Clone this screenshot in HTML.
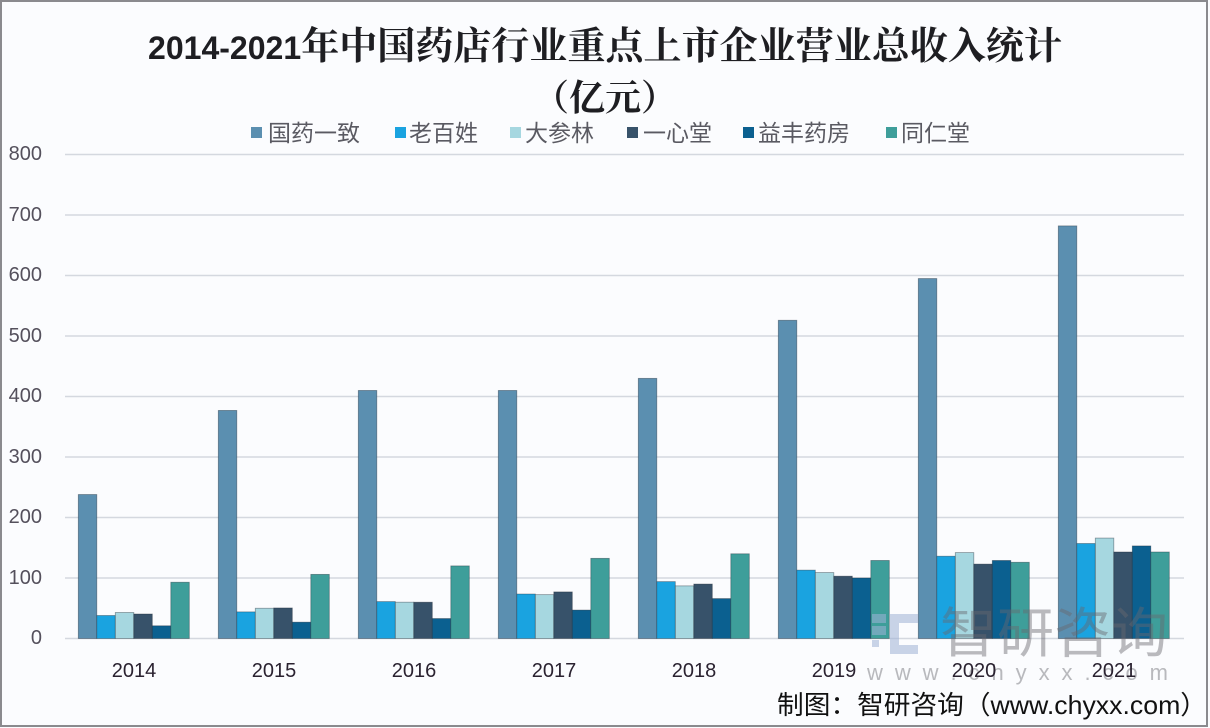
<!DOCTYPE html>
<html>
<head>
<meta charset="utf-8">
<style>
  html,body{margin:0;padding:0;background:#fbfcfe;}
  svg{display:block;}
  .ylab{font-family:"Liberation Sans","DejaVu Sans",sans-serif;font-size:20px;fill:#54505c;text-anchor:end;}
  .xlab{font-family:"Liberation Sans","DejaVu Sans",sans-serif;font-size:20px;fill:#2a2230;text-anchor:middle;}
  .leg{font-family:"Liberation Sans","Noto Sans CJK SC",sans-serif;font-size:23px;fill:#5a5a62;}
</style>
</head>
<body>
<svg width="1210" height="728" viewBox="0 0 1210 728" xmlns="http://www.w3.org/2000/svg">
  <rect x="0" y="0" width="1210" height="728" fill="#fbfcfe"/>
  <rect x="1" y="1" width="1206" height="725" fill="none" stroke="#8a8a8e" stroke-width="2"/>

  <!-- Title -->
  <text x="148" y="59" textLength="914" lengthAdjust="spacingAndGlyphs" fill="#1e1e22"><tspan font-family="Liberation Sans, sans-serif" font-weight="700" font-size="32">2014-2021</tspan><tspan font-family="Noto Serif CJK SC, serif" font-weight="700" font-size="38">年中国药店行业重点上市企业营业总收入统计</tspan></text>
  <text x="605" y="110" text-anchor="middle" font-family="Noto Serif CJK SC, serif" font-weight="700" font-size="36" fill="#1e1e22">（亿元）</text>

  <!-- Legend -->
  <rect x="251" y="127" width="11" height="11" fill="#5b8fb0"/>
  <text class="leg" x="268" y="141">国药一致</text>
  <rect x="395" y="127" width="11" height="11" fill="#1aa3e0"/>
  <text class="leg" x="409" y="141">老百姓</text>
  <rect x="510" y="127" width="11" height="11" fill="#a6d7e0"/>
  <text class="leg" x="525" y="141">大参林</text>
  <rect x="627" y="127" width="11" height="11" fill="#37526a"/>
  <text class="leg" x="643" y="141">一心堂</text>
  <rect x="743" y="127" width="11" height="11" fill="#0b6090"/>
  <text class="leg" x="758" y="141">益丰药房</text>
  <rect x="886" y="127" width="11" height="11" fill="#3e9e9a"/>
  <text class="leg" x="901" y="141">同仁堂</text>

  <!-- Gridlines -->
  <g stroke="#d4d8df" stroke-width="1.5">
    <line x1="65" x2="1184" y1="154.5" y2="154.5"/>
    <line x1="65" x2="1184" y1="215" y2="215"/>
    <line x1="65" x2="1184" y1="275.5" y2="275.5"/>
    <line x1="65" x2="1184" y1="336" y2="336"/>
    <line x1="65" x2="1184" y1="396.5" y2="396.5"/>
    <line x1="65" x2="1184" y1="457" y2="457"/>
    <line x1="65" x2="1184" y1="517.5" y2="517.5"/>
    <line x1="65" x2="1184" y1="578" y2="578"/>
    <line x1="65" x2="1184" y1="638.5" y2="638.5"/>
  </g>

  <!-- Y labels -->
  <text class="ylab" x="42" y="160">800</text>
  <text class="ylab" x="42" y="221">700</text>
  <text class="ylab" x="42" y="281">600</text>
  <text class="ylab" x="42" y="342">500</text>
  <text class="ylab" x="42" y="402">400</text>
  <text class="ylab" x="42" y="463">300</text>
  <text class="ylab" x="42" y="523">200</text>
  <text class="ylab" x="42" y="584">100</text>
  <text class="ylab" x="42" y="644">0</text>

  <!-- Bars -->
  <g id="bars" stroke="rgba(30,40,50,0.45)" stroke-width="0.8"></g>

  <!-- X labels -->
  <text class="xlab" x="134" y="677">2014</text>
  <text class="xlab" x="274" y="677">2015</text>
  <text class="xlab" x="414" y="677">2016</text>
  <text class="xlab" x="554" y="677">2017</text>
  <text class="xlab" x="694" y="677">2018</text>
  <text class="xlab" x="834" y="677">2019</text>

  <!-- Watermark -->
  <g opacity="0.55">
    <rect x="872" y="614" width="14" height="9" fill="#9fb3d6"/>
    <rect x="872" y="626" width="14" height="9" fill="#9fb3d6"/>
    <rect x="890" y="614" width="28" height="9" fill="#9fb3d6"/>
    <rect x="890" y="614" width="9" height="40" fill="#9fb3d6"/>
    <rect x="890" y="645" width="28" height="9" fill="#9fb3d6"/>
    <rect x="872" y="640" width="7" height="7" fill="#9fb3d6"/>
  </g>
  <text x="940" y="652" textLength="228" lengthAdjust="spacingAndGlyphs" font-family="Noto Sans CJK SC, sans-serif" font-size="54" fill="rgba(105,105,110,0.45)">智研咨询</text>
  <text x="867" y="680" textLength="301" lengthAdjust="spacing" font-family="Liberation Sans, sans-serif" font-size="22" fill="rgba(140,140,145,0.6)">w w w . c h y x x . c o m</text>

  <text class="xlab" x="974" y="677">2020</text>
  <text class="xlab" x="1114" y="677">2021</text>

  <!-- Source -->
  <text x="777" y="714" textLength="430" lengthAdjust="spacingAndGlyphs" font-family="Liberation Sans, Noto Sans CJK SC, sans-serif" font-size="26" fill="#111">制图：智研咨询（www.chyxx.com）</text>
</svg>
<script>
(function(){
  var data=[
    [238,377,410,410,430,526,595,682],
    [38,44,61,73.5,94,113,136,157],
    [43,50,60,72.5,87,109,142,166],
    [40.5,50.5,60,77,90,103,123,143],
    [21,27,33,47,66,100,129,153],
    [93,106,120,132.5,140,129,126,143]
  ];
  var colors=["#5b8fb0","#1aa3e0","#a6d7e0","#37526a","#0b6090","#3e9e9a"];
  var g=document.getElementById("bars");
  var ns="http://www.w3.org/2000/svg";
  for(var i=0;i<8;i++){
    var gx=78.3+140*i;
    for(var s=0;s<6;s++){
      var v=data[s][i];
      var y=638.5-0.605*v;
      var r=document.createElementNS(ns,"rect");
      r.setAttribute("x",(gx+s*18.5).toFixed(2));
      r.setAttribute("y",y.toFixed(2));
      r.setAttribute("width","18.5");
      r.setAttribute("height",(638.5-y).toFixed(2));
      r.setAttribute("fill",colors[s]);
      g.appendChild(r);
    }
  }
})();
</script>
</body>
</html>
